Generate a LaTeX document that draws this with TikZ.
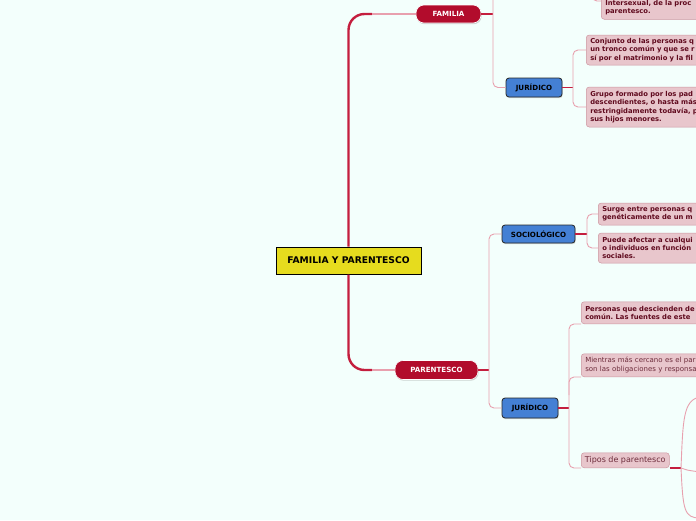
\documentclass[tikz,border=0pt]{standalone}
\usepackage{fontspec}
\setmainfont{DejaVu Sans}
\frenchspacing
\usetikzlibrary{shadows}
\definecolor{bg}{RGB}{243,255,252}
\definecolor{nodered}{RGB}{178,12,44}
\definecolor{linered}{RGB}{196,30,62}
\definecolor{linepink}{RGB}{232,160,174}
\definecolor{nodeblue}{RGB}{68,128,212}
\definecolor{nodeyellow}{RGB}{230,220,30}
\definecolor{boxpink}{RGB}{232,198,204}
\definecolor{boxedge}{RGB}{205,150,160}
\definecolor{maroon}{RGB}{96,10,30}
\definecolor{mutedmaroon}{RGB}{110,45,60}
\tikzset{
  central/.style={draw=black, line width=1pt, fill=nodeyellow, minimum width=145pt, minimum height=27pt, font=\bfseries\fontsize{9.2}{10}\selectfont, inner sep=0pt},
  rednode/.style={fill=nodered, draw=white, line width=0.6pt, rounded corners=8pt, text=white, font=\bfseries\fontsize{7.1}{8}\selectfont, inner sep=0pt, drop shadow={shadow xshift=0.6pt, shadow yshift=-1.2pt, opacity=0.35}},
  bluenode/.style={fill=nodeblue, draw=black!85, line width=0.8pt, rounded corners=3pt, text=black, font=\bfseries\fontsize{7.1}{8}\selectfont, inner sep=0pt, drop shadow={shadow xshift=0.6pt, shadow yshift=-1.2pt, opacity=0.3}},
  pinkbox/.style={fill=boxpink, draw=boxedge, line width=0.5pt, rounded corners=3pt, text=maroon, align=left, text width=150pt, inner xsep=4pt, inner ysep=2pt, font=\bfseries\fontsize{6.8}{8.3}\selectfont},
  pinkboxlight/.style={pinkbox, font=\fontsize{7}{9}\selectfont, text=mutedmaroon},
  tipobox/.style={fill=boxpink, draw=boxedge, line width=0.5pt, rounded corners=3pt, text=mutedmaroon, inner xsep=3pt, inner ysep=1pt, minimum width=88pt, minimum height=15pt, font=\fontsize{8}{9}\selectfont},
  mainline/.style={draw=linered, line width=2.4pt, rounded corners=16pt},
  mainlight/.style={draw=linepink, line width=1.4pt},
  redstub/.style={draw=linered, line width=1.2pt},
  pinkline/.style={draw=linepink, line width=0.9pt, rounded corners=5pt}
}
\begin{document}
\begin{tikzpicture}[x=1pt,y=-1pt]
\useasboundingbox (0,0) rectangle (696,520);
\fill[bg] (0,0) rectangle (696,520);
\clip (0,0) rectangle (696,520);

% nodes
\node[central] (c) at (348.5,260.5) {FAMILIA Y PARENTESCO};
\node[rednode, minimum width=65pt, minimum height=18pt] (fam) at (448.5,14) {FAMILIA};
\node[rednode, minimum width=83pt, minimum height=19pt] (par) at (436.5,370) {PARENTESCO};
\node[bluenode, minimum width=56pt, minimum height=19pt] (j1) at (534,87.5) {JURÍDICO};
\node[bluenode, minimum width=73pt, minimum height=18pt] (soc) at (538.5,234) {SOCIOLÓGICO};
\node[bluenode, minimum width=56pt, minimum height=20pt] (j2) at (530,408) {JURÍDICO};

\node[pinkbox, anchor=south west, minimum height=26pt] (t0) at (601,19.5) {\\Intersexual, de la proc\\parentesco.};
\node[pinkbox, anchor=west, minimum height=30pt] (c1) at (586,50) {Conjunto de las personas q\\un tronco común y que se r\\sí por el matrimonio y la fil};
\node[pinkbox, anchor=west, minimum height=40pt] (c2) at (586,107) {Grupo formado por los pad\\descendientes, o hasta más\\restringidamente todavía, p\\sus hijos menores.};
\node[pinkbox, anchor=west, minimum height=22pt] (s1) at (598,214) {Surge entre personas q\\genéticamente de un m};
\node[pinkbox, anchor=west, minimum height=30pt] (s2) at (598,248) {Puede afectar a cualqui\\o individuos en función\\sociales.};
\node[pinkbox, anchor=south west, minimum height=22pt] (p1) at (581,324) {Personas que descienden de\\común. Las fuentes de este};
\node[pinkboxlight, anchor=south west, minimum height=23pt] (p2) at (581,377) {Mientras más cercano es el par\\son las obligaciones y responsa};
\node[tipobox, anchor=south west] (tp) at (581,468) {Tipos de parentesco};

% coordinates
\coordinate (famjoin) at (493,14);
\coordinate (famtop) at (493,-5);
\coordinate (j1join) at (573,87.5);
\coordinate (parjoin) at (489,370);
\coordinate (socjoin) at (587,234);
\coordinate (j2join) at (569,408);
\coordinate (p2from) at (569,395);
\coordinate (tpjoin) at (681,468);
\coordinate (t0from) at (592,-10);
\coordinate (t0to) at (601,1);
\coordinate (r1) at (700,397);
\coordinate (r2) at (700,472);
\coordinate (r3) at (700,518);
\coordinate (cfam) at (372,14);
\coordinate (cpar) at (372,370);

% main connectors
\draw[mainline] (c.north) |- (cfam);
\draw[mainlight] (cfam) -- (fam.west);
\draw[mainline] (c.south) |- (cpar);
\draw[mainlight] (cpar) -- (par.west);

% FAMILIA
\draw[redstub] (fam.east) -- (famjoin);
\draw[pinkline] (famtop) |- (j1.west);
\draw[pinkline] (t0from) |- (t0to);

% JURIDICO 1
\draw[redstub] (j1.east) -- (j1join);
\draw[pinkline] (c1.west) -| (j1join) |- (c2.west);

% PARENTESCO
\draw[redstub] (par.east) -- (parjoin);
\draw[pinkline] (soc.west) -| (parjoin) |- (j2.west);

% SOCIOLOGICO
\draw[redstub] (soc.east) -- (socjoin);
\draw[pinkline] (s1.west) -| (socjoin) |- (s2.west);

% JURIDICO 2
\draw[redstub] (j2.east) -- (j2join);
\draw[pinkline] (p1.south west) -| (j2join) |- (tp.south west);
\draw[pinkline] (p2from) |- (p2.south west);

% Tipos
\draw[redstub] (tp.south east) -- (tpjoin);
\draw[draw=linepink, line width=0.9pt] (tpjoin) .. controls (683,420) and (683,400) .. (r1);
\draw[draw=linepink, line width=0.9pt] (tpjoin) .. controls (686,470) .. (r2);
\draw[draw=linepink, line width=0.9pt] (tpjoin) .. controls (683,510) and (684,518) .. (r3);
\end{tikzpicture}
\end{document}
